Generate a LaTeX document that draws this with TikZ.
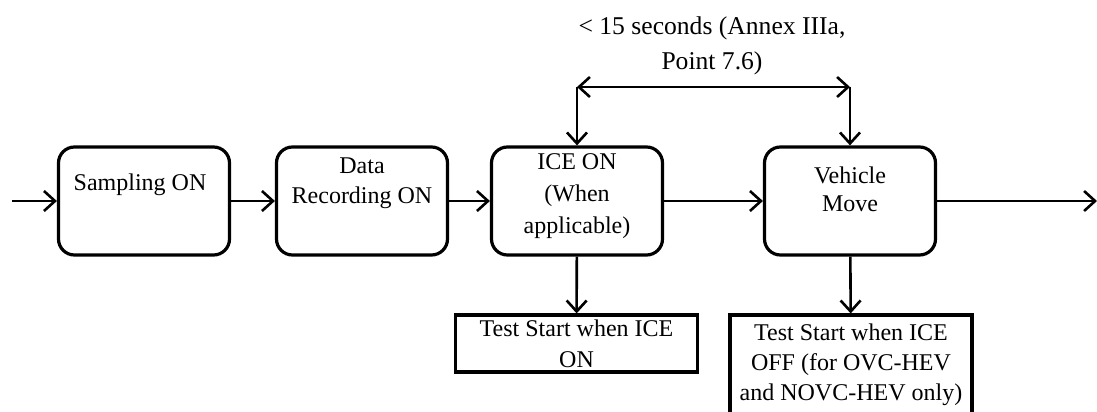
\documentclass[tikz,border=0pt]{standalone}
\usepackage{fontspec}
\setmainfont{Liberation Serif}
\usetikzlibrary{arrows.meta}

\tikzset{
  stage/.style={draw, rounded corners=8pt, line width=1.6pt, minimum width=85.5pt, minimum height=54pt, inner sep=0pt},
  teststart/.style={draw, rectangle, line width=1.6pt, minimum width=121pt, inner sep=0pt, align=center},
  lbl/.style={align=center, inner sep=0pt},
  flow/.style={line width=1.3pt, -{Straight Barb[length=5.5pt,width=10pt]}},
}

\begin{document}
\begin{tikzpicture}[x=0.5pt, y=-0.5pt, font=\fontsize{12}{15}\selectfont]
  \useasboundingbox (0,0) rectangle (1097,412);

  % Nodes
  \node[stage] (Sampling) at (144,201) {};
  \node[stage] (Recording) at (362,201) {};
  \node[stage] (ICE) at (577,201) {};
  \node[stage] (Move) at (850,201) {};

  \node[lbl] (SamplingT) at (140,185) {Sampling ON};
  \node[lbl] (RecordingT) at (362,183) {Data\\Recording ON};
  \node[lbl, font=\fontsize{12}{16}\selectfont] (ICET) at (577,196) {ICE ON\\(When\\applicable)};
  \node[lbl, font=\fontsize{12}{14}\selectfont] (MoveT) at (850,189) {Vehicle\\Move};

  \node[teststart, minimum height=28.5pt, font=\fontsize{12}{15.5}\selectfont] (StartOn) at (576.5,343.5) {Test Start when ICE\\ON};
  \node[teststart, minimum height=50pt] (StartOff) at (851,365) {Test Start when ICE\\OFF (for OVC-HEV\\and NOVC-HEV only)};

  \node[lbl, font=\fontsize{12.8}{17.5}\selectfont] (Limit) at (712,45.5) {< 15 seconds (Annex IIIa,\\Point 7.6)};

  \coordinate (In) at (12,201);
  \coordinate (Out) at (1097,201);
  \coordinate (LimitL) at (577,87);
  \coordinate (LimitR) at (850,87);

  % Edges
  \draw[flow] (In) -- (Sampling.west);
  \draw[flow] (Sampling) -- (Recording);
  \draw[flow] (Recording) -- (ICE);
  \draw[flow] (ICE) -- (Move);
  \draw[flow] (Move.east) -- (Out);

  \draw[flow] (ICE) -- (StartOn);
  \draw[flow] (Move) -- (StartOff);

  % Time limit
  \draw[flow, {Straight Barb[length=5.5pt,width=10pt]}-{Straight Barb[length=5.5pt,width=10pt]}] (LimitL) -- (LimitR);
  \draw[flow] (LimitL) -- (ICE.north);
  \draw[flow] (LimitR) -- (Move.north);
\end{tikzpicture}
\end{document}
